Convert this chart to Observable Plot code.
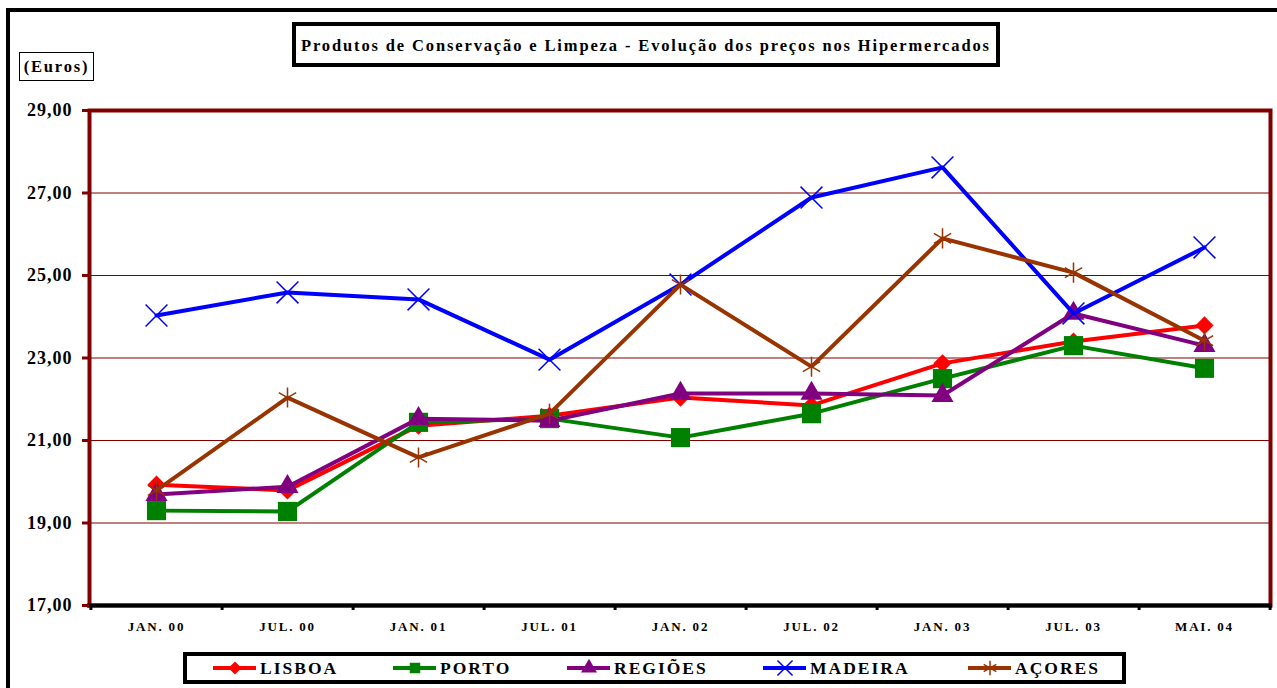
<!DOCTYPE html>
<html><head><meta charset="utf-8">
<script src="https://cdn.jsdelivr.net/npm/d3@7"></script>
<script src="https://cdn.jsdelivr.net/npm/@observablehq/plot@0.6"></script>
<style>
body{margin:0;background:#fff}
#chart{position:relative;width:1277px;height:688px;overflow:hidden}
#chart svg text{font-family:"Liberation Serif","Times New Roman",serif}
g[aria-label="x-axis tick label"] text{letter-spacing:1.8px}
g[aria-label="y-axis tick label"] text{letter-spacing:1px}
</style></head><body><div id="chart"></div>
<script>
// ---- data ----
const periods = ["JAN. 00","JUL. 00","JAN. 01","JUL. 01","JAN. 02","JUL. 02","JAN. 03","JUL. 03","MAI. 04"];
const lisboa  = [19.93,19.79,21.36,21.60,22.04,21.85,22.87,23.40,23.79];
const porto   = [19.30,19.28,21.44,21.53,21.07,21.65,22.50,23.30,22.75];
const regioes = [19.69,19.88,21.53,21.48,22.14,22.14,22.09,24.08,23.30];
const madeira = [24.03,24.59,24.42,22.96,24.78,26.89,27.62,24.08,25.68];
const acores  = [19.79,22.04,20.59,21.65,24.78,22.79,25.90,25.07,23.42];
const seriesNames = ["LISBOA","PORTO","REGIÕES","MADEIRA","AÇORES"];
const seriesValues = [lisboa, porto, regioes, madeira, acores];
const yTicks = [17,19,21,23,25,27,29];
const titleText = "Produtos de Conservação e Limpeza - Evolução dos preços nos Hipermercados";
const unitText = "(Euros)";

// ---- styles ----
const seriesColors = ["#ff0000","#008000","#800080","#0000ff","#993300"];
const seriesSymbols = ["diamond2","square","triangle","times","asterisk"];
const seriesR = [8.2,10.8,8.2,10,9.5];
const d3Symbols = [d3.symbolDiamond2,d3.symbolSquare,d3.symbolTriangle,d3.symbolTimes,d3.symbolAsterisk];
const legendX = [213,393,567,763,968];

const W = 1277, H = 688, ML = 89, MR = 7, MT = 110, MB = 83;
const step = (W - ML - MR) / periods.length;
const dark = "#800000";

const table = [];
seriesNames.forEach((s, i) => periods.forEach((p, j) => table.push({series: s, period: p, value: seriesValues[i][j]})));

const marks = [
  Plot.ruleY(yTicks.slice(1, -1), {stroke: dark, strokeWidth: 1}),
  Plot.frame({stroke: dark, strokeWidth: 4}),
  Plot.ruleY([yTicks[0]], {stroke: "black", strokeWidth: 4, insetLeft: -2, insetRight: -2}),
  Plot.axisY(yTicks, {label: null, tickSize: 7, tickPadding: 10, stroke: dark, strokeWidth: 3, fill: "black",
    fontSize: 18, fontWeight: "bold", tickFormat: d => d.toFixed(2).replace(".", ",")}),
  Plot.axisX({label: null, tickSize: 0, tickPadding: 16, fontSize: 13, fontWeight: "bold", fill: "black"}),
  Plot.axisX(periods, {label: null, tickSize: 5, tickFormat: () => "", dx: step / 2, stroke: "black", strokeWidth: 3}),
  Plot.axisX([periods[0]], {label: null, tickSize: 5, tickFormat: () => "", dx: -step / 2, stroke: "black", strokeWidth: 3})
];
seriesNames.forEach((s, i) => {
  const rows = table.filter(d => d.series === s);
  const stroked = seriesSymbols[i] === "times" || seriesSymbols[i] === "asterisk";
  marks.push(Plot.line(rows, {x: "period", y: "value", stroke: seriesColors[i], strokeWidth: 4}));
  marks.push(Plot.dot(rows, stroked
    ? {x: "period", y: "value", symbol: () => seriesSymbols[i], r: seriesR[i], stroke: seriesColors[i], strokeWidth: 1.5, fill: "none"}
    : {x: "period", y: "value", symbol: () => seriesSymbols[i], r: seriesR[i], fill: seriesColors[i], stroke: "none"}));
});

const svg = Plot.plot({
  width: W, height: H,
  marginLeft: ML, marginRight: MR, marginTop: MT, marginBottom: MB,
  x: {type: "point", domain: periods, padding: 0.5, axis: null, label: null},
  y: {domain: [yTicks[0], yTicks[yTicks.length - 1]], axis: null, label: null},
  symbol: {type: "identity"},
  style: {background: "white", overflow: "visible"},
  marks
});
document.getElementById("chart").appendChild(svg);

// ---- decorations: outer border, title box, unit box, legend ----
const g = d3.select(svg).append("g").attr("text-anchor", "start");
const serif = "'Liberation Serif','Times New Roman',serif";
g.append("rect").attr("x", 8).attr("y", 10).attr("width", W + 20).attr("height", H + 20)
  .attr("fill", "none").attr("stroke", "black").attr("stroke-width", 4);
g.append("rect").attr("x", 294).attr("y", 24).attr("width", 704).attr("height", 41)
  .attr("fill", "white").attr("stroke", "black").attr("stroke-width", 4);
g.append("text").attr("x", 301).attr("y", 51).attr("text-anchor", "start")
  .attr("textLength", 688).attr("lengthAdjust", "spacing")
  .attr("font-family", serif).attr("font-weight", "bold").attr("font-size", 16.5).text(titleText);
g.append("rect").attr("x", 19.5).attr("y", 52.5).attr("width", 74).attr("height", 28)
  .attr("fill", "white").attr("stroke", "black").attr("stroke-width", 1);
g.append("text").attr("x", 56.5).attr("y", 72).attr("text-anchor", "middle")
  .attr("font-family", serif).attr("font-weight", "bold").attr("font-size", 16.5)
  .attr("letter-spacing", "1.8px").text(unitText);
g.append("rect").attr("x", 185).attr("y", 654).attr("width", 939).attr("height", 28)
  .attr("fill", "white").attr("stroke", "black").attr("stroke-width", 4);
seriesNames.forEach((s, i) => {
  const x0 = legendX[i], cy = 668;
  g.append("line").attr("x1", x0).attr("x2", x0 + 43).attr("y1", cy).attr("y2", cy)
    .attr("stroke", seriesColors[i]).attr("stroke-width", 4);
  const stroked = i >= 3;
  g.append("path").attr("transform", `translate(${x0 + 22},${cy})`)
    .attr("d", d3.symbol(d3Symbols[i], stroked ? 150 : 110)())
    .attr("fill", stroked ? "none" : seriesColors[i])
    .attr("stroke", stroked ? seriesColors[i] : "none").attr("stroke-width", 1.5);
  g.append("text").attr("x", x0 + 47).attr("y", 674).attr("text-anchor", "start")
    .attr("font-family", serif).attr("font-weight", "bold").attr("font-size", 17.5)
    .attr("letter-spacing", "2px").text(s);
});
</script></body></html>
